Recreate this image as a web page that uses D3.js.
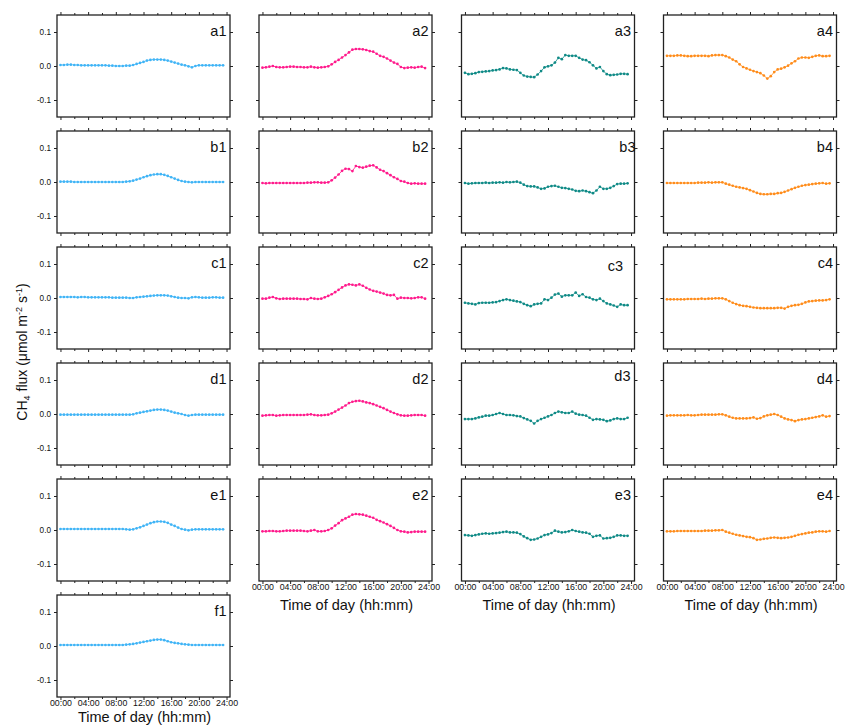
<!DOCTYPE html>
<html><head><meta charset="utf-8">
<script src="https://cdn.jsdelivr.net/npm/d3@7"></script>
<style>
body{margin:0;background:#fff;}
text{font-family:"Liberation Sans",Arial,sans-serif;fill:#111;}
</style>
</head><body>
<svg id="chart" width="845" height="726"></svg>
<script>
// ---- data ----
const hours = [0,0.5,1,1.5,2,2.5,3,3.5,4,4.5,5,5.5,6,6.5,7,7.5,8,8.5,9,9.5,10,10.5,11,11.5,
  12,12.5,13,13.5,14,14.5,15,15.5,16,16.5,17,17.5,18,18.5,19,19.5,20,20.5,21,21.5,22,22.5,23,23.5];
const xTicks = [0,4,8,12,16,20,24];
const xTickLabels = ["00:00","04:00","08:00","12:00","16:00","20:00","24:00"];
const xMinorTicks = [2,6,10,14,18,22];
const yTicks = [-0.1,0,0.1];
const yTickLabels = ["-0.1","0.0","0.1"];

const fluxA1 = [0.003,0.003,0.004,0.004,0.003,0.003,0.002,0.002,0.002,0.002,0.002,0.002,0.002,0.002,0.001,0.001,0.000,0.000,0.000,0.001,
  0.001,0.003,0.006,0.009,0.012,0.016,0.018,0.019,0.019,0.019,0.018,0.016,0.013,0.010,0.007,0.004,0.002,-0.001,-0.004,0.000,
  0.002,0.002,0.002,0.002,0.002,0.002,0.002,0.002];
const fluxA2 = [-0.005,-0.004,-0.002,0.000,-0.003,-0.004,-0.004,-0.003,-0.002,-0.002,-0.003,-0.003,-0.004,-0.004,-0.002,-0.004,-0.005,-0.004,-0.003,-0.001,
  0.005,0.012,0.018,0.025,0.032,0.040,0.048,0.050,0.050,0.049,0.047,0.044,0.042,0.036,0.030,0.027,0.022,0.016,0.010,0.006,
  -0.003,-0.006,-0.005,-0.004,-0.005,-0.003,-0.002,-0.006];
const fluxA3 = [-0.020,-0.024,-0.023,-0.021,-0.018,-0.017,-0.016,-0.015,-0.013,-0.012,-0.010,-0.006,-0.007,-0.010,-0.011,-0.012,-0.020,-0.028,-0.031,-0.032,
  -0.033,-0.025,-0.015,-0.004,-0.001,0.002,0.010,0.024,0.020,0.032,0.030,0.030,0.030,0.024,0.019,0.017,0.011,0.002,-0.007,-0.003,
  -0.015,-0.024,-0.027,-0.026,-0.025,-0.023,-0.023,-0.024];
const fluxA4 = [0.030,0.030,0.030,0.031,0.031,0.030,0.029,0.029,0.030,0.030,0.030,0.030,0.029,0.031,0.032,0.032,
  0.032,0.029,0.025,0.019,0.014,0.005,-0.003,-0.007,-0.011,-0.015,-0.018,-0.021,-0.028,-0.037,-0.030,-0.018,
  -0.010,-0.008,-0.004,0.001,0.008,0.014,0.022,0.025,0.025,0.024,0.027,0.030,0.031,0.029,0.029,0.030];

const fluxB1 = [0.001,0.001,0.001,0.001,0.000,0.000,0.000,0.000,0.000,0.000,0.000,0.000,0.000,0.000,0.000,0.000,0.000,0.000,0.000,0.001,
  0.002,0.004,0.007,0.010,0.014,0.017,0.020,0.022,0.023,0.023,0.021,0.018,0.014,0.010,0.006,0.003,0.001,0.000,-0.001,0.000,
  0.000,0.000,0.000,0.000,0.000,0.000,0.000,0.000];
const fluxB2 = [-0.003,-0.004,-0.003,-0.003,-0.003,-0.003,-0.003,-0.003,-0.003,-0.003,-0.003,-0.003,-0.003,-0.002,-0.002,-0.001,-0.001,-0.002,-0.002,-0.001,
  0.005,0.013,0.022,0.033,0.039,0.038,0.032,0.047,0.044,0.042,0.045,0.048,0.049,0.043,0.036,0.032,0.026,0.020,0.014,0.009,
  0.003,0.001,-0.003,-0.005,-0.004,-0.005,-0.005,-0.005];
const fluxB3 = [-0.003,-0.005,-0.004,-0.003,-0.003,-0.003,-0.002,-0.003,-0.002,-0.002,-0.001,-0.002,0.000,-0.001,0.000,0.001,-0.002,-0.008,-0.012,-0.013,
  -0.013,-0.016,-0.020,-0.019,-0.014,-0.012,-0.011,-0.014,-0.017,-0.018,-0.020,-0.022,-0.026,-0.027,-0.025,-0.027,-0.030,-0.033,-0.025,-0.014,
  -0.020,-0.020,-0.017,-0.012,-0.006,-0.005,-0.005,-0.004];
const fluxB4 = [-0.003,-0.003,-0.003,-0.003,-0.003,-0.003,-0.003,-0.003,-0.003,-0.002,-0.002,-0.002,-0.001,-0.002,-0.001,-0.001,
  -0.001,-0.005,-0.008,-0.011,-0.014,-0.016,-0.018,-0.020,-0.024,-0.028,-0.032,-0.035,-0.036,-0.036,-0.035,-0.035,
  -0.033,-0.032,-0.029,-0.025,-0.021,-0.017,-0.014,-0.011,-0.009,-0.008,-0.006,-0.005,-0.004,-0.003,-0.005,-0.004];

const fluxC1 = [0.003,0.003,0.003,0.003,0.003,0.002,0.003,0.003,0.002,0.002,0.002,0.002,0.002,0.002,0.002,0.001,0.001,0.001,0.001,0.001,
  0.000,0.000,0.002,0.003,0.004,0.005,0.006,0.007,0.008,0.008,0.008,0.007,0.005,0.003,0.001,0.000,0.000,-0.001,0.002,0.003,
  0.002,0.001,0.001,0.001,0.002,0.002,0.001,0.001];
const fluxC2 = [-0.002,-0.002,0.001,0.003,-0.001,-0.003,-0.002,-0.002,-0.002,-0.002,-0.002,-0.003,-0.003,-0.004,0.000,-0.002,-0.003,-0.002,0.002,0.006,
  0.011,0.017,0.024,0.031,0.037,0.040,0.039,0.037,0.040,0.036,0.030,0.025,0.021,0.019,0.016,0.013,0.009,0.008,0.009,-0.002,
  0.001,0.000,0.000,-0.001,0.000,0.002,0.002,-0.002];
const fluxC3 = [-0.014,-0.016,-0.017,-0.019,-0.015,-0.014,-0.014,-0.014,-0.013,-0.012,-0.009,-0.006,-0.004,-0.006,-0.008,-0.010,-0.012,-0.017,-0.021,-0.024,
  -0.019,-0.017,-0.016,-0.004,-0.006,0.001,0.010,0.013,0.004,0.008,0.008,0.008,0.016,0.006,0.011,0.003,0.001,-0.004,-0.006,-0.002,
  -0.009,-0.016,-0.019,-0.022,-0.026,-0.019,-0.021,-0.021];
const fluxC4 = [-0.004,-0.004,-0.004,-0.004,-0.004,-0.004,-0.003,-0.003,-0.003,-0.003,-0.002,-0.003,-0.002,-0.002,-0.001,-0.001,
  -0.001,-0.004,-0.009,-0.014,-0.018,-0.021,-0.023,-0.024,-0.026,-0.028,-0.029,-0.030,-0.030,-0.030,-0.030,-0.030,
  -0.029,-0.029,-0.031,-0.026,-0.023,-0.021,-0.020,-0.017,-0.013,-0.010,-0.009,-0.008,-0.007,-0.007,-0.006,-0.004];

const fluxD1 = [-0.002,-0.002,-0.002,-0.002,-0.002,-0.002,-0.002,-0.002,-0.002,-0.002,-0.002,-0.002,-0.002,-0.002,-0.002,-0.002,-0.002,-0.002,-0.002,-0.002,
  -0.002,-0.001,0.002,0.004,0.006,0.008,0.010,0.012,0.013,0.013,0.012,0.010,0.007,0.004,0.002,0.000,-0.003,-0.005,-0.003,-0.002,
  -0.002,-0.002,-0.002,-0.002,-0.002,-0.002,-0.002,-0.002];
const fluxD2 = [-0.005,-0.004,-0.003,-0.003,-0.005,-0.004,-0.003,-0.003,-0.003,-0.003,-0.003,-0.003,-0.003,-0.002,-0.001,-0.003,-0.004,-0.004,-0.003,-0.002,
  0.002,0.007,0.013,0.019,0.025,0.032,0.036,0.038,0.039,0.037,0.034,0.032,0.029,0.025,0.021,0.017,0.012,0.007,0.003,-0.001,
  -0.004,-0.005,-0.005,-0.004,-0.003,-0.003,-0.003,-0.005];
const fluxD3 = [-0.015,-0.015,-0.015,-0.013,-0.010,-0.008,-0.005,-0.005,-0.003,0.000,0.003,0.000,-0.003,-0.003,-0.004,-0.006,-0.007,-0.012,-0.016,-0.020,
  -0.028,-0.020,-0.015,-0.011,-0.007,-0.003,0.003,0.007,0.005,0.003,0.003,0.007,0.001,-0.002,-0.003,-0.005,-0.011,-0.017,-0.015,-0.016,
  -0.017,-0.021,-0.019,-0.015,-0.013,-0.015,-0.015,-0.011];
const fluxD4 = [-0.005,-0.004,-0.004,-0.004,-0.004,-0.004,-0.003,-0.004,-0.004,-0.003,-0.002,-0.002,-0.002,-0.002,-0.002,-0.001,-0.001,-0.004,-0.008,-0.011,
  -0.013,-0.013,-0.013,-0.013,-0.012,-0.010,-0.014,-0.012,-0.007,-0.004,-0.002,0.000,-0.003,-0.008,-0.013,-0.016,-0.018,-0.021,-0.018,-0.016,
  -0.015,-0.013,-0.011,-0.009,-0.007,-0.004,-0.008,-0.006];

const fluxE1 = [0.003,0.003,0.003,0.003,0.003,0.003,0.003,0.003,0.003,0.003,0.003,0.003,0.003,0.003,0.003,0.003,0.003,0.003,0.003,0.002,
  0.001,0.002,0.005,0.008,0.012,0.016,0.020,0.023,0.025,0.025,0.024,0.021,0.016,0.012,0.007,0.003,0.001,-0.001,0.001,0.002,
  0.002,0.002,0.002,0.002,0.002,0.002,0.002,0.002];
const fluxE2 = [-0.004,-0.004,-0.003,-0.003,-0.004,-0.004,-0.003,-0.002,-0.002,-0.002,-0.002,-0.002,-0.003,-0.004,-0.002,0.000,-0.004,-0.004,-0.003,0.000,
  0.005,0.013,0.020,0.029,0.034,0.039,0.045,0.047,0.046,0.045,0.042,0.039,0.036,0.030,0.026,0.022,0.017,0.012,0.006,0.000,
  -0.004,-0.005,-0.007,-0.006,-0.005,-0.005,-0.005,-0.005];
const fluxE3 = [-0.015,-0.016,-0.017,-0.015,-0.013,-0.011,-0.010,-0.011,-0.010,-0.009,-0.008,-0.006,-0.005,-0.007,-0.007,-0.008,-0.012,-0.019,-0.024,-0.029,
  -0.028,-0.025,-0.020,-0.015,-0.013,-0.009,-0.002,-0.005,-0.007,-0.006,-0.004,0.000,-0.003,-0.005,-0.007,-0.008,-0.011,-0.020,-0.017,-0.016,
  -0.025,-0.024,-0.023,-0.020,-0.016,-0.016,-0.017,-0.017];
const fluxE4 = [-0.004,-0.004,-0.004,-0.003,-0.003,-0.003,-0.003,-0.003,-0.003,-0.003,-0.003,-0.002,-0.002,-0.002,-0.001,-0.001,
  0.000,-0.005,-0.008,-0.011,-0.014,-0.016,-0.018,-0.020,-0.021,-0.024,-0.029,-0.028,-0.026,-0.025,-0.023,-0.022,
  -0.023,-0.024,-0.023,-0.022,-0.020,-0.017,-0.014,-0.012,-0.010,-0.008,-0.007,-0.005,-0.004,-0.004,-0.005,-0.003];

const fluxF1 = [0.003,0.003,0.003,0.003,0.003,0.003,0.003,0.003,0.003,0.003,0.003,0.003,0.003,0.003,0.003,0.003,0.003,0.003,0.003,
  0.004,0.005,0.006,0.008,0.010,0.012,0.014,0.016,0.018,0.019,0.019,0.017,0.014,0.011,0.009,0.008,0.006,0.005,0.004,
  0.003,0.003,0.003,0.003,0.003,0.003,0.003,0.003,0.003,0.003];

const panelNames = ["a1","a2","a3","a4","b1","b2","b3","b4","c1","c2","c3","c4","d1","d2","d3","d4","e1","e2","e3","e4","f1"];
const panelSeries = [fluxA1,fluxA2,fluxA3,fluxA4,fluxB1,fluxB2,fluxB3,fluxB4,fluxC1,fluxC2,fluxC3,fluxC4,
  fluxD1,fluxD2,fluxD3,fluxD4,fluxE1,fluxE2,fluxE3,fluxE4,fluxF1];
const columnColors = ["#3fb4f6","#ff1a8c","#0f8a86","#ff8c1a"];
const xTitle = "Time of day (hh:mm)";

// ---- layout ----
const svg = d3.select("#chart");
const colLeft = [57, 259, 461.5, 663.5];
const PW = 173, PH = 102, rowStep = 116, top0 = 15;
// individual panel-label placement tweaks (as in the original figure)
const labelShift = { b3: [4.5, 0], c3: [-8, 3.5], d3: [-0.5, -2.5] };

const x = d3.scaleLinear().domain([-0.5, 24.5]).range([0, PW]);
const y = d3.scaleLinear().domain([-0.15, 0.15]).range([PH, 0]);

panelNames.forEach((name, i) => {
  const row = "abcdef".indexOf(name[0]);
  const col = +name[1] - 1;
  const data = panelSeries[i];
  const color = columnColors[col];
  const g = svg.append("g").attr("transform", `translate(${colLeft[col]},${top0 + row*rowStep})`);
  const isBottom = (col === 0 && row === 5) || (col > 0 && row === 4);

  // axes
  const fmtX = d => isBottom ? xTickLabels[xTicks.indexOf(d)] : "";
  const bAx = g.append("g").attr("transform", `translate(0,${PH})`)
    .call(d3.axisBottom(x).tickValues(xTicks).tickSize(3).tickPadding(0).tickFormat(fmtX));
  g.append("g").attr("transform", `translate(0,${PH})`)
    .call(d3.axisBottom(x).tickValues(xMinorTicks).tickSize(2).tickFormat(""));
  g.append("g").call(d3.axisTop(x).tickValues(xTicks).tickSize(3).tickFormat(""));
  g.append("g").call(d3.axisTop(x).tickValues(xMinorTicks).tickSize(2).tickFormat(""));
  const lAx = g.append("g").call(d3.axisLeft(y).tickValues(yTicks).tickSize(3).tickPadding(3)
    .tickFormat(d => col === 0 ? yTickLabels[yTicks.indexOf(d)] : ""));
  g.append("g").attr("transform", `translate(${PW},0)`)
    .call(d3.axisRight(y).tickValues(yTicks).tickSize(3).tickFormat(""));
  g.selectAll(".domain").remove();
  g.selectAll(".tick line").attr("stroke", "#222").attr("stroke-width", 1);
  g.selectAll(".tick text").attr("fill", "#111").style("font-family", "Liberation Sans, Arial, sans-serif");
  bAx.selectAll(".tick text").style("font-size", "8.8px");
  lAx.selectAll(".tick text").style("font-size", "8.2px");

  // frame
  g.append("rect").attr("width", PW).attr("height", PH)
    .attr("fill", "none").attr("stroke", "#222").attr("stroke-width", 1.3);

  // series
  const pts = hours.map((h, k) => [h, data[k]]);
  g.append("path").datum(pts)
    .attr("fill", "none").attr("stroke", color).attr("stroke-width", 0.8)
    .attr("d", d3.line().x(d => x(d[0])).y(d => y(d[1])));
  g.selectAll("circle.pt").data(pts).join("circle").attr("class", "pt")
    .attr("cx", d => x(d[0])).attr("cy", d => y(d[1])).attr("r", 1.35).attr("fill", color);

  // panel label
  const sh = labelShift[name] || [0, 0];
  g.append("text").attr("x", PW - 3.5 + sh[0]).attr("y", 20.5 + sh[1]).attr("text-anchor", "end")
    .style("font-size", "14.5px").text(name);

  if (isBottom) {
    g.append("text").attr("x", PW/2 + 1).attr("y", row === 5 ? PH + 25 : PH + 28.5)
      .attr("text-anchor", "middle").style("font-size", "14.5px").text(xTitle);
  }
});

// y-axis title
const yt = svg.append("text").attr("transform", "translate(27,352) rotate(-90)")
  .attr("text-anchor", "middle").style("font-size", "14px");
yt.append("tspan").text("CH");
yt.append("tspan").attr("dy", 3).style("font-size", "9px").text("4");
yt.append("tspan").attr("dy", -3).text(" flux  (\u03bcmol m");
yt.append("tspan").attr("dy", -5).style("font-size", "9px").text("-2");
yt.append("tspan").attr("dy", 5).text(" s");
yt.append("tspan").attr("dy", -5).style("font-size", "9px").text("-1");
yt.append("tspan").attr("dy", 5).text(")");
</script>
</body></html>
